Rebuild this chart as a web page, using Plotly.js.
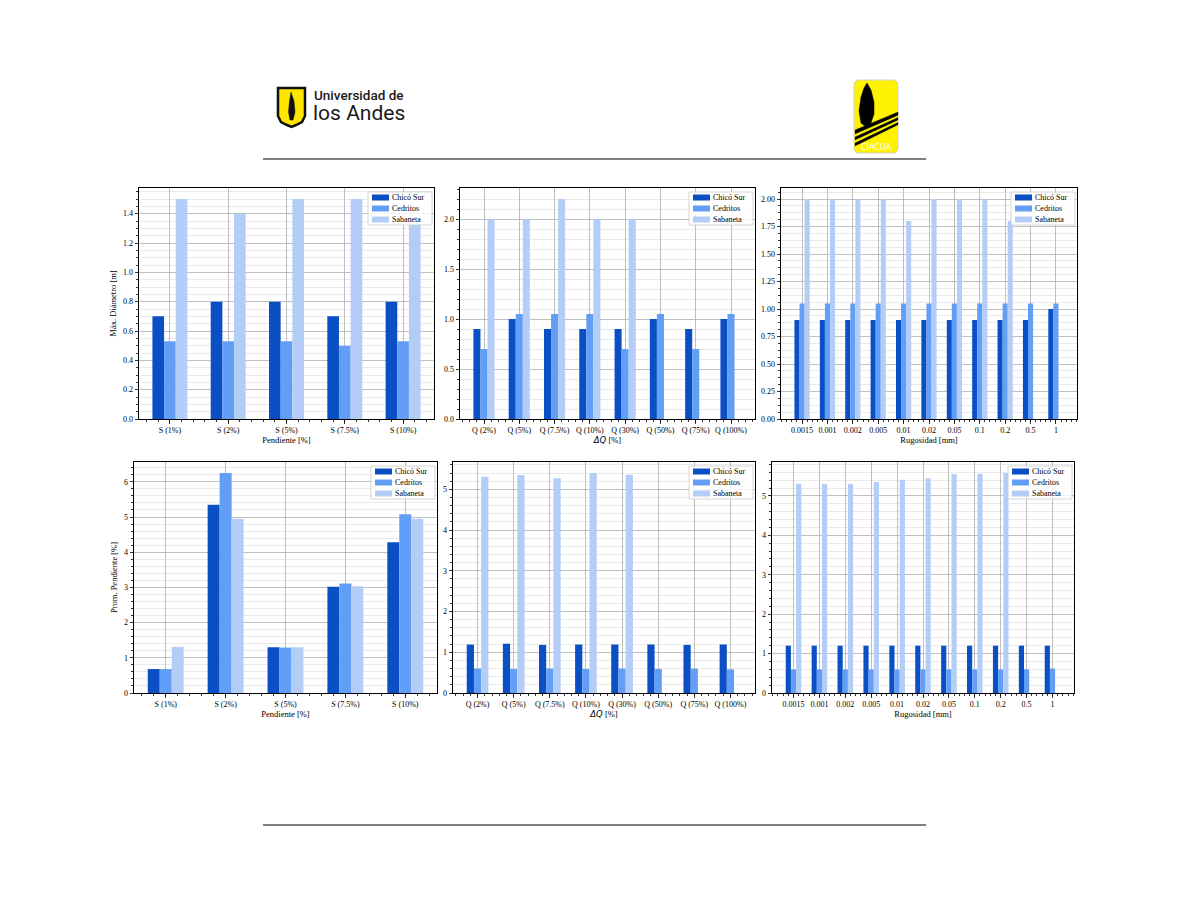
<!DOCTYPE html>
<html><head><meta charset="utf-8">
<script src="https://cdn.plot.ly/plotly-3.0.1.min.js"></script>
<style>html,body{margin:0;padding:0;background:#fff}#chart{width:1188px;height:918px}</style>
</head><body><div id="chart"></div>
<script>
// ---------- DATA ----------
const seriesNames = ["Chicó Sur", "Cedritos", "Sabaneta"];
const seriesColors = ["#0b4fc4", "#629ef6", "#b3cdf6"];

const pendienteCats = ["S (1%)", "S (2%)", "S (5%)", "S (7.5%)", "S (10%)"];
const caudalCats = ["Q (2%)", "Q (5%)", "Q (7.5%)", "Q (10%)", "Q (30%)", "Q (50%)", "Q (75%)", "Q (100%)"];
const rugosidadCats = ["0.0015", "0.001", "0.002", "0.005", "0.01", "0.02", "0.05", "0.1", "0.2", "0.5", "1"];

// Máx. Diámetro [m] vs Pendiente
const diamPendChico    = [0.7, 0.8, 0.8, 0.7, 0.8];
const diamPendCedritos = [0.53, 0.53, 0.53, 0.5, 0.53];
const diamPendSabaneta = [1.5, 1.4, 1.5, 1.5, 1.33];

// Máx. Diámetro [m] vs ΔQ
const diamCaudChico    = [0.9, 1.0, 0.9, 0.9, 0.9, 1.0, 0.9, 1.0];
const diamCaudCedritos = [0.7, 1.05, 1.05, 1.05, 0.7, 1.05, 0.7, 1.05];
const diamCaudSabaneta = [2.0, 2.0, 2.2, 2.0, 2.0, null, null, null];

// Máx. Diámetro [m] vs Rugosidad
const diamRugChico    = [0.9, 0.9, 0.9, 0.9, 0.9, 0.9, 0.9, 0.9, 0.9, 0.9, 1.0];
const diamRugCedritos = [1.05, 1.05, 1.05, 1.05, 1.05, 1.05, 1.05, 1.05, 1.05, 1.05, 1.05];
const diamRugSabaneta = [2.0, 2.0, 2.0, 2.0, 1.8, 2.0, 2.0, 2.0, 1.8, null, null];

// Prom. Pendiente [%] vs Pendiente
const pendPendChico    = [0.68, 5.35, 1.3, 3.02, 4.28];
const pendPendCedritos = [0.68, 6.25, 1.29, 3.11, 5.08];
const pendPendSabaneta = [1.31, 4.95, 1.3, 3.03, 4.95];

// Prom. Pendiente [%] vs ΔQ
const pendCaudChico    = [1.19, 1.21, 1.18, 1.19, 1.19, 1.19, 1.18, 1.19];
const pendCaudCedritos = [0.6, 0.59, 0.6, 0.59, 0.6, 0.59, 0.6, 0.58];
const pendCaudSabaneta = [5.31, 5.35, 5.27, 5.4, 5.36, null, null, null];

// Prom. Pendiente [%] vs Rugosidad
const pendRugChico    = [1.2, 1.2, 1.2, 1.2, 1.2, 1.2, 1.2, 1.2, 1.2, 1.2, 1.2];
const pendRugCedritos = [0.6, 0.6, 0.6, 0.6, 0.6, 0.6, 0.6, 0.6, 0.6, 0.6, 0.62];
const pendRugSabaneta = [5.31, 5.3, 5.3, 5.35, 5.41, 5.45, 5.55, 5.56, 5.58, null, null];

// ---------- LAYOUT HELPERS ----------
const W = 1188, H = 918;
const px = v => v / W;
const py = v => 1 - v / H;
const SERIF = "Liberation Serif, Times New Roman, serif";
const DQ = '<span style="font-family:DejaVu Sans"><i>ΔQ</i></span> [%]';

const panels = [
  {cats: pendienteCats, data: [diamPendChico, diamPendCedritos, diamPendSabaneta], box: [139, 434, 188, 419],
   ymax: 1.575, dtick: 0.2, minor: 0.05, fmt: ".1f", ytitle: "Máx. Diámetro [m]", xtitle: "Pendiente [%]"},
  {cats: caudalCats, data: [diamCaudChico, diamCaudCedritos, diamCaudSabaneta], box: [460, 755, 188, 419],
   ymax: 2.31, dtick: 0.5, minor: 0.1, fmt: ".1f", ytitle: "", xtitle: DQ},
  {cats: rugosidadCats, data: [diamRugChico, diamRugCedritos, diamRugSabaneta], box: [781, 1077, 188, 419],
   ymax: 2.1, dtick: 0.25, minor: 0.0625, fmt: ".2f", ytitle: "", xtitle: "Rugosidad [mm]"},
  {cats: pendienteCats, data: [pendPendChico, pendPendCedritos, pendPendSabaneta], box: [134, 437, 462, 693],
   ymax: 6.5625, dtick: 1, minor: 0.2, fmt: "d", ytitle: "Prom. Pendiente [%]", xtitle: "Pendiente [%]"},
  {cats: caudalCats, data: [pendCaudChico, pendCaudCedritos, pendCaudSabaneta], box: [453, 755, 462, 693],
   ymax: 5.67, dtick: 1, minor: 0.2, fmt: "d", ytitle: "", xtitle: DQ},
  {cats: rugosidadCats, data: [pendRugChico, pendRugCedritos, pendRugSabaneta], box: [772, 1074, 462, 693],
   ymax: 5.86, dtick: 1, minor: 0.2, fmt: "d", ytitle: "", xtitle: "Rugosidad [mm]"}
];

const traces = [];
const layout = {
  width: W, height: H, margin: {l: 0, r: 0, t: 0, b: 0},
  paper_bgcolor: "#ffffff", plot_bgcolor: "#ffffff",
  barmode: "group", bargap: 0.4, bargroupgap: 0, showlegend: false,
  font: {family: SERIF, color: "#000", size: 8},
  shapes: [], annotations: []
};

panels.forEach((p, k) => {
  const sfx = k === 0 ? "" : String(k + 1);
  const xa = "xaxis" + sfx, ya = "yaxis" + sfx;
  const idx = p.cats.map((c, i) => i);
  const n = p.cats.length;
  const m = 0.05 * (n - 1 + 0.6);
  p.data.forEach((vals, s) => {
    traces.push({
      type: "bar", x: idx, y: vals, name: seriesNames[s],
      marker: {color: seriesColors[s], line: {width: 0}},
      xaxis: "x" + sfx, yaxis: "y" + sfx, showlegend: false
    });
  });
  const [x0, x1, y0, y1] = p.box;
  const axisCommon = {
    showline: true, linecolor: "#000", linewidth: 1, mirror: true,
    ticks: "outside", ticklen: 3.5, tickwidth: 0.8, tickcolor: "#000",
    showgrid: true, gridcolor: "#b0b0b0", gridwidth: 0.8, zeroline: false,
    tickfont: {family: SERIF, size: 8, color: "#000"}
  };
  layout[xa] = Object.assign({}, axisCommon, {
    domain: [px(x0), px(x1)], anchor: "y" + sfx, type: "linear",
    range: [-0.3 - m, n - 1 + 0.3 + m],
    tickmode: "array", tickvals: idx, ticktext: p.cats,
    minor: {dtick: 0.2, tick0: 0, ticks: "outside", ticklen: 2, tickcolor: "#000", showgrid: false},
    title: {text: p.xtitle, font: {family: SERIF, size: 8.5, color: "#000"}, standoff: 1}
  });
  layout[ya] = Object.assign({}, axisCommon, {
    domain: [py(y1), py(y0)], anchor: "x" + sfx,
    range: [0, p.ymax], tickmode: "linear", tick0: 0, dtick: p.dtick, tickformat: p.fmt,
    minor: {dtick: p.minor, tick0: 0, ticks: "outside", ticklen: 2, tickcolor: "#000",
            showgrid: true, gridcolor: "#dcdcdc", gridwidth: 0.6},
    title: {text: p.ytitle, font: {family: SERIF, size: 8.5, color: "#000"}, standoff: 4}
  });

  // matplotlib-style legend box (upper right), drawn as paper shapes + text
  const L = x1 - 66, R = x1 - 2, T = y0 + 4, B = y0 + 37;
  layout.shapes.push({type: "rect", xref: "paper", yref: "paper", layer: "above",
    x0: px(L), x1: px(R), y0: py(B), y1: py(T),
    fillcolor: "rgba(255,255,255,0.8)", line: {color: "#cccccc", width: 0.8}});
  seriesNames.forEach((nm, s) => {
    const cy = T + 5.5 + s * 11;
    layout.shapes.push({type: "rect", xref: "paper", yref: "paper", layer: "above",
      x0: px(L + 4), x1: px(L + 21), y0: py(cy + 3), y1: py(cy - 3),
      fillcolor: seriesColors[s], line: {width: 0}});
    layout.annotations.push({xref: "paper", yref: "paper", x: px(L + 23), y: py(cy), xanchor: "left", yanchor: "middle",
      showarrow: false, borderpad: 0, text: nm, font: {family: SERIF, size: 8, color: "#000"}});
  });
});

// ---------- PAGE DECORATION (header / footer) ----------
const pathFrom = pts => pts.map((q, i) => (i ? "L" : "M") + px(q[0]).toFixed(5) + "," + py(q[1]).toFixed(5)).join(" ") + " Z";
layout.shapes.push({type: "line", xref: "paper", yref: "paper", x0: px(263), x1: px(926), y0: py(159), y1: py(159), line: {color: "#000", width: 1}});
layout.shapes.push({type: "line", xref: "paper", yref: "paper", x0: px(263), x1: px(926), y0: py(825), y1: py(825), line: {color: "#000", width: 1}});
// Uniandes shield
layout.shapes.push({type: "path", xref: "paper", yref: "paper",
  path: pathFrom([[278, 88], [305, 88], [305, 116], [302, 122], [296, 125], [291.5, 127], [287, 125], [281, 122], [278, 116]]),
  fillcolor: "#ffe500", line: {color: "#111", width: 2.5}});
layout.shapes.push({type: "path", xref: "paper", yref: "paper",
  path: pathFrom([[291, 92], [294, 101], [295, 112], [293, 120], [290, 120], [288.5, 112], [289.5, 101]]),
  fillcolor: "#111", line: {color: "#111", width: 0.5}});
layout.annotations.push({xref: "paper", yref: "paper", x: px(312), y: py(95), xanchor: "left", yanchor: "middle", showarrow: false,
  text: "Universidad de", font: {family: "Roboto, sans-serif", size: 13.5, color: "#1a1a1a", weight: 500}});
layout.annotations.push({xref: "paper", yref: "paper", x: px(311), y: py(113), xanchor: "left", yanchor: "middle", showarrow: false,
  text: "los Andes", font: {family: "Roboto, sans-serif", size: 21, color: "#1a1a1a", weight: 400}});
// CIACUA logo
layout.shapes.push({type: "path", xref: "paper", yref: "paper",
  path: pathFrom([[857, 80], [895, 80], [898, 83], [898, 150], [895, 153], [857, 153], [854, 150], [854, 83]]),
  fillcolor: "#fff200", line: {color: "#d0d0d0", width: 1}});
layout.shapes.push({type: "path", xref: "paper", yref: "paper",
  path: pathFrom([[867, 83], [871, 90], [874, 102], [874, 114], [871, 123], [866, 127], [861, 123], [859, 111], [861, 97], [864, 88]]),
  fillcolor: "#000", line: {color: "#000", width: 0.5}});
[[0, 4], [7, 10], [13, 16]].forEach(([a, b]) => {
  layout.shapes.push({type: "path", xref: "paper", yref: "paper",
    path: pathFrom([[855, 130 + a], [898, 112 + a * 0.8], [898, 112 + b * 0.8], [855, 130 + b]]),
    fillcolor: "#000", line: {color: "#000", width: 0.3}});
});
layout.annotations.push({xref: "paper", yref: "paper", x: px(876), y: py(148), xanchor: "center", yanchor: "middle", showarrow: false,
  text: "CIACUA", font: {family: "DejaVu Sans, sans-serif", size: 8, color: "#ffffff"}});

Plotly.newPlot("chart", traces, layout, {displayModeBar: false, staticPlot: true});
</script>
</body></html>
